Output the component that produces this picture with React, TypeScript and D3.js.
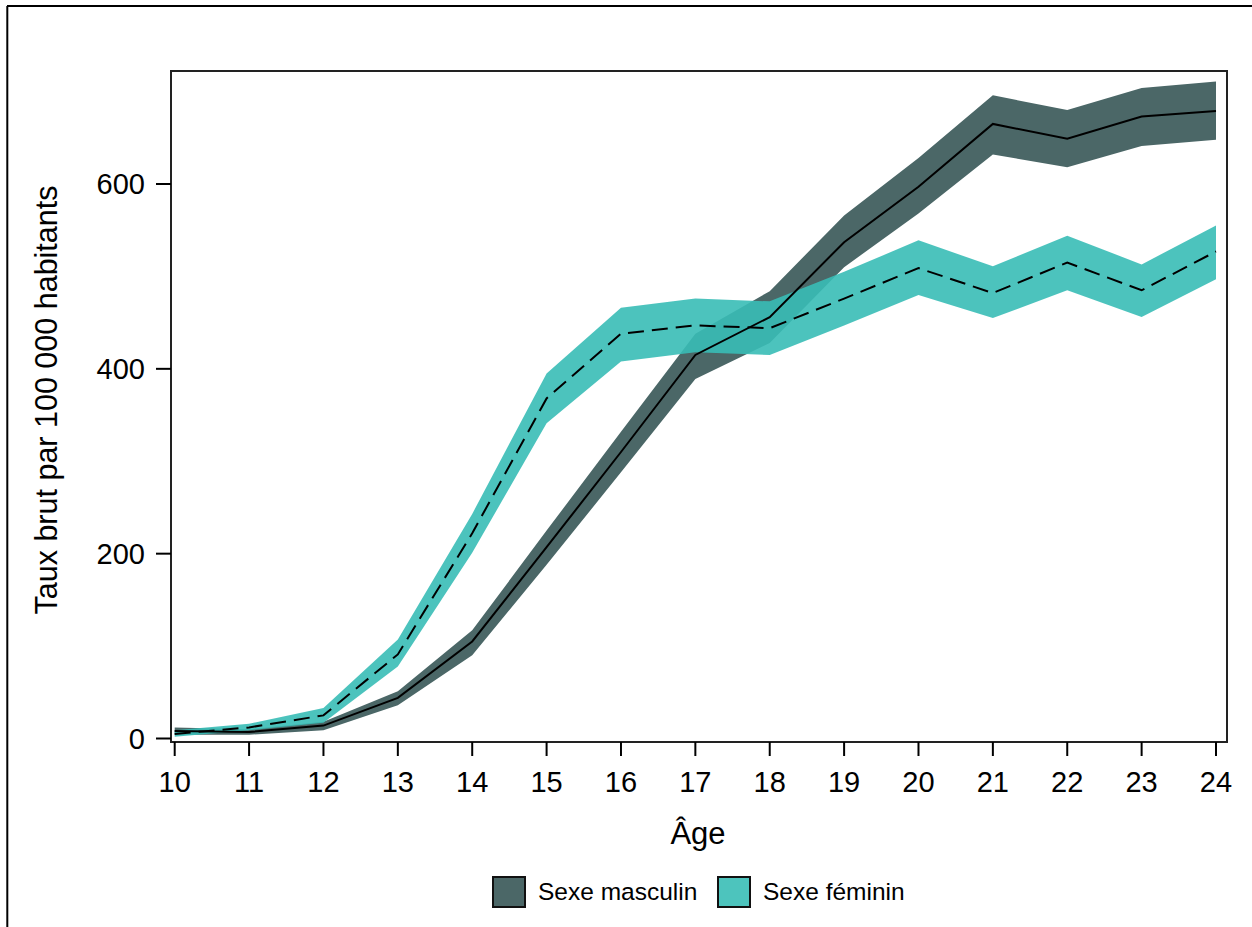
import React from 'react';
import * as d3 from 'd3';

// ages and crude rates per 100 000 (with confidence band)
const ages = [10, 11, 12, 13, 14, 15, 16, 17, 18, 19, 20, 21, 22, 23, 24];
const maleRate = [8, 7, 14, 44, 105, 207, 310, 415, 456, 537, 597, 665, 649, 673, 679];
const maleLow = [4, 4, 9, 36, 90, 188, 288, 389, 428, 510, 568, 632, 618, 641, 648];
const maleHigh = [12, 10, 18, 51, 117, 225, 332, 438, 484, 566, 628, 696, 680, 704, 711];
const femaleRate = [5, 12, 25, 91, 222, 368, 438, 447, 444, 476, 509, 482, 515, 485, 527];
const femaleLow = [2, 9, 17, 78, 201, 341, 408, 418, 415, 447, 480, 455, 485, 456, 497];
const femaleHigh = [9, 16, 33, 107, 243, 395, 466, 476, 473, 505, 539, 511, 544, 513, 555];
const yTicks = [0, 200, 400, 600];
const legendLabels = ['Sexe masculin', 'Sexe féminin'];

const W = 1252;
const H = 927;
const font = '"Liberation Sans", Arial, sans-serif';
const darkColor = '#4b6767';
const tealColor = 'rgb(57,189,182)';
const tealLegend = '#4dc4bd';

const frame = { left: 171, right: 1227, top: 71, bottom: 742 };

const App = () => {
  const x = d3.scaleLinear().domain([10, 24]).range([174.7, 1216]);
  const y = d3.scaleLinear().domain([0, 600]).range([738.5, 184]);

  const maleArea = d3.area<number>()
    .x((_, i) => x(ages[i]))
    .y0((_, i) => y(maleLow[i]))
    .y1((_, i) => y(maleHigh[i]))(ages) || '';
  const femaleArea = d3.area<number>()
    .x((_, i) => x(ages[i]))
    .y0((_, i) => y(femaleLow[i]))
    .y1((_, i) => y(femaleHigh[i]))(ages) || '';

  const line = (vals: number[]) => d3.line<number>()
    .x((_, i) => x(ages[i]))
    .y(d => y(d))(vals) || '';

  const legendColors = [darkColor, tealLegend];
  const legendX = [493, 718];

  return (
    <svg width={W} height={H} style={{ position: 'absolute', left: 0, top: 0, background: '#fff' }}
      fontFamily={font}>
      {/* outer border (top + left only) */}
      <line x1={7} x2={W} y1={6} y2={6} stroke="#000" strokeWidth={2} />
      <line x1={7.3} x2={7.3} y1={6} y2={H} stroke="#000" strokeWidth={2} />

      <path d={maleArea} fill={darkColor} />
      <path d={femaleArea} fill={tealColor} fillOpacity={0.9} />
      <path d={line(maleRate)} fill="none" stroke="#000" strokeWidth={2} />
      <path d={line(femaleRate)} fill="none" stroke="#000" strokeWidth={2} strokeDasharray="16,8" />

      {/* frame */}
      <rect x={frame.left} y={frame.top} width={frame.right - frame.left} height={frame.bottom - frame.top}
        fill="none" stroke="#222" strokeWidth={2} />

      {/* y axis */}
      {yTicks.map(t => (
        <g key={t}>
          <line x1={156} x2={frame.left} y1={y(t)} y2={y(t)} stroke="#000" strokeWidth={2} />
          <text x={145} y={y(t)} dy="0.36em" textAnchor="end" fontSize={29}>{t}</text>
        </g>
      ))}

      {/* x axis */}
      {ages.map(a => (
        <g key={a}>
          <line x1={x(a)} x2={x(a)} y1={frame.bottom} y2={756} stroke="#000" strokeWidth={2} />
          <text x={x(a)} y={792} textAnchor="middle" fontSize={29}>{a}</text>
        </g>
      ))}

      <text x={698} y={844} textAnchor="middle" fontSize={31}>Âge</text>
      <text transform="translate(57,400) rotate(-90)" textAnchor="middle" fontSize={30.5}>
        Taux brut par 100 000 habitants
      </text>

      {/* legend */}
      {legendLabels.map((lab, i) => (
        <g key={lab}>
          <rect x={legendX[i]} y={877} width={32} height={30} fill={legendColors[i]} stroke="#111" strokeWidth={2} />
          <text x={legendX[i] + 45} y={900} fontSize={24.5}>{lab}</text>
        </g>
      ))}
    </svg>
  );
};

export default App;
